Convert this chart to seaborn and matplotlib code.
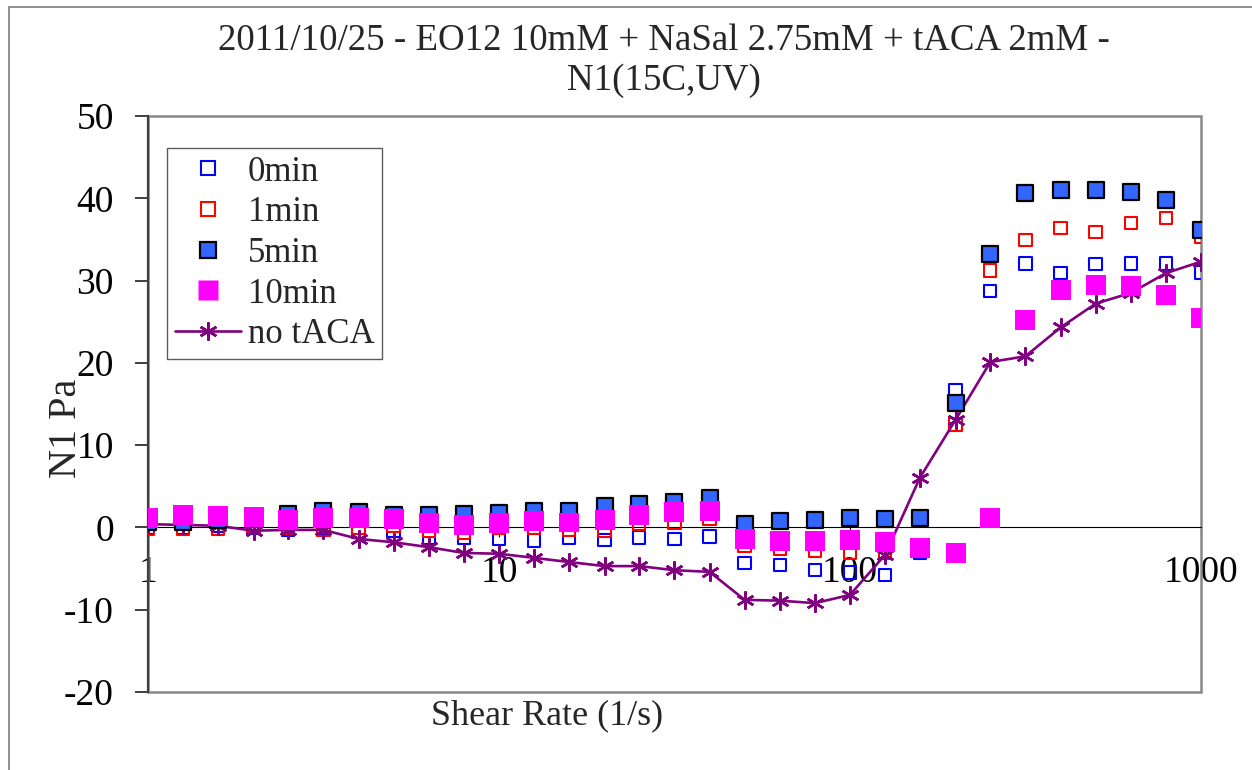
import numpy as np
import pandas as pd
import matplotlib
matplotlib.use("Agg")
import matplotlib.pyplot as plt
from matplotlib.lines import Line2D
from matplotlib.patches import Rectangle
import seaborn as sns

# Shear rates (1/s), ten points per decade
shear_rate = [1, 1.26, 1.58, 2, 2.51, 3.16, 3.98, 5.01, 6.31, 7.94,
              10, 12.6, 15.8, 20, 25.1, 31.6, 39.8, 50.1, 63.1, 79.4,
              100, 126, 158, 200, 251, 316, 398, 501, 631, 794, 1000]

# First normal stress difference N1 (Pa) after UV exposure time
n1_0min = [-0.1, 0.0, 0.2, 0.0, -0.3, -0.1, -0.5, -0.4, -1.2, -1.3,
           -1.4, -1.6, -1.2, -1.5, -1.2, -1.4, -1.1, -4.3, -4.6, -5.2,
           -5.5, -5.8, -3.1, 16.7, 28.7, 32.1, 30.9, 32.0, 32.1, 32.1, 31.0]
n1_1min = [-0.2, -0.2, -0.2, 0.15, -0.1, -0.3, -0.1, 0.2, -0.4, -0.7,
           -0.1, -0.1, -0.3, -0.4, 0.5, 0.6, 1.0, -2.2, -2.6, -2.8,
           -3.1, -3.1, -2.5, 12.5, 31.2, 34.9, 36.4, 35.9, 37.0, 37.6, 35.3]
n1_5min = [0.7, 0.7, 0.95, 1.2, 1.6, 2.0, 1.9, 1.55, 1.55, 1.6,
           1.8, 2.0, 2.0, 2.6, 2.8, 3.1, 3.6, 0.4, 0.8, 0.95,
           1.2, 1.0, 1.2, 15.1, 33.2, 40.6, 41.0, 41.0, 40.8, 39.8, 36.2]
n1_10min = [1.2, 1.5, 1.4, 1.3, 0.9, 1.2, 1.2, 1.0, 0.5, 0.3,
            0.5, 0.8, 0.6, 0.9, 1.5, 1.9, 2.0, -1.4, -1.6, -1.7,
            -1.5, -1.8, -2.5, -3.1, 1.1, 25.2, 28.8, 29.5, 29.3, 28.3, 25.5]
n1_no_taca = [0.4, 0.3, 0.2, -0.4, -0.3, -0.3, -1.4, -1.8, -2.4, -3.1,
              -3.2, -3.7, -4.2, -4.7, -4.7, -5.2, -5.4, -8.8, -8.9, -9.2,
              -8.2, -3.3, 6.0, 13.1, 20.1, 20.8, 24.3, 27.2, 28.5, 30.9, 32.3]

series_labels = ["0min", "1min", "5min", "10min", "no tACA"]
title_text = "2011/10/25 - EO12 10mM + NaSal 2.75mM + tACA 2mM -\nN1(15C,UV)"

sns.set_style("white")
plt.rcParams["font.family"] = ["Liberation Serif", "DejaVu Serif"]
plt.rcParams["axes.unicode_minus"] = False

W, H = 1252, 770
fig = plt.figure(figsize=(W / 100, H / 100), dpi=100)
L, R, T, B = 148, 1201, 116, 692
ax = fig.add_axes([L / W, 1 - B / H, (R - L) / W, (B - T) / H])

def frame(values, name):
    return pd.DataFrame({"shear": shear_rate, "N1": values, "series": name})

d0 = frame(n1_0min, series_labels[0])
d1 = frame(n1_1min, series_labels[1])
d5 = frame(n1_5min, series_labels[2])
d10 = frame(n1_10min, series_labels[3])
dn = frame(n1_no_taca, series_labels[4])

star = (6, 2, 0)
purple = "#800080"

sns.scatterplot(data=d0, x="shear", y="N1", ax=ax, marker="s", s=80,
                facecolor="none", edgecolor="#0000FF", linewidth=1.5,
                zorder=3, legend=False)
sns.scatterplot(data=d1, x="shear", y="N1", ax=ax, marker="s", s=80,
                facecolor="none", edgecolor="#FF0000", linewidth=1.5,
                zorder=4, legend=False)
sns.lineplot(data=dn, x="shear", y="N1", ax=ax, color=purple, lw=1.9,
             marker=star, markersize=13, markeredgewidth=1.8,
             markeredgecolor=purple, estimator=None, sort=False,
             zorder=5, legend=False)
sns.scatterplot(data=d5, x="shear", y="N1", ax=ax, marker="s", s=117,
                facecolor="#3366FF", edgecolor="black", linewidth=1.6,
                zorder=6, legend=False)
sns.scatterplot(data=d10, x="shear", y="N1", ax=ax, marker="s", s=207,
                facecolor="#FF00FF", edgecolor="none", linewidth=0,
                zorder=7, legend=False)

ax.set_xscale("log")
ax.set_xlim(1, 1000)
ax.set_ylim(-20, 50)
ax.set_yticks(np.arange(-20, 51, 10))
ax.set_xticks([1, 10, 100, 1000])
ax.set_xticklabels(["1", "10", "100", "1000"])
ax.xaxis.set_minor_locator(matplotlib.ticker.NullLocator())
ax.set_xlabel("")
ax.set_ylabel("")

# x axis crosses at N1 = 0
ax.spines["bottom"].set_position(("data", 0))
ax.spines["bottom"].set_color("black")
ax.spines["bottom"].set_linewidth(0.8)
ax.spines["bottom"].set_zorder(2)
ax.spines["left"].set_color("#404040")
ax.spines["left"].set_linewidth(1.6)
ax.spines["top"].set_visible(False)
ax.spines["right"].set_visible(False)

# plot-area border
ax.add_patch(Rectangle((0, 0), 1, 1, transform=ax.transAxes, fill=False,
                       edgecolor="#888888", lw=1.8, zorder=1, clip_on=False))

ax.tick_params(axis="y", which="major", direction="out", length=9.5,
               width=1.4, color="#404040", pad=15, labelsize=27,
               left=True, labelcolor="black")
ax.tick_params(axis="x", which="major", direction="out", length=7,
               width=0.8, color="black", pad=13, labelsize=27,
               bottom=True, labelcolor="black")

ax.set_facecolor("white")

# chart-area border
fig.add_artist(Rectangle((9 / W, -0.05), 1.2, (H - 7) / H + 0.05,
                         transform=fig.transFigure, fill=False,
                         edgecolor="#888888", lw=1.3))

fig.text(664 / W, 1 - 61 / H, title_text, ha="center", va="center",
         fontsize=26.6, linespacing=1.22)
fig.text(547 / W, 1 - 716 / H, "Shear Rate (1/s)", ha="center",
         va="center", fontsize=26)
fig.text(66 / W, 1 - 428 / H, "N1 Pa", ha="center", va="center",
         rotation=90, fontsize=29)

handles = [
    Line2D([], [], ls="none", marker="s", ms=9.5, mfc="none",
           mec="#0000FF", mew=1.5),
    Line2D([], [], ls="none", marker="s", ms=9.5, mfc="none",
           mec="#FF0000", mew=1.5),
    Line2D([], [], ls="none", marker="s", ms=11, mfc="#3366FF",
           mec="black", mew=1.6),
    Line2D([], [], ls="none", marker="s", ms=14, mfc="#FF00FF",
           mec="none"),
    Line2D([], [], color=purple, lw=1.9, marker=star, ms=13, mew=1.8,
           mec=purple),
]
leg = ax.legend(handles, series_labels, loc="upper left",
                bbox_to_anchor=((167 - L) / (R - L), 1 - (148 - T) / (B - T)),
                fontsize=25, frameon=True, fancybox=False, shadow=False,
                borderpad=0.22, labelspacing=0.22, handlelength=1.9,
                handletextpad=0.2, borderaxespad=0)
leg.get_frame().set_edgecolor("#333333")
leg.get_frame().set_linewidth(1.0)
leg.set_zorder(10)

fig.savefig("out.png", dpi=100, facecolor="white")
